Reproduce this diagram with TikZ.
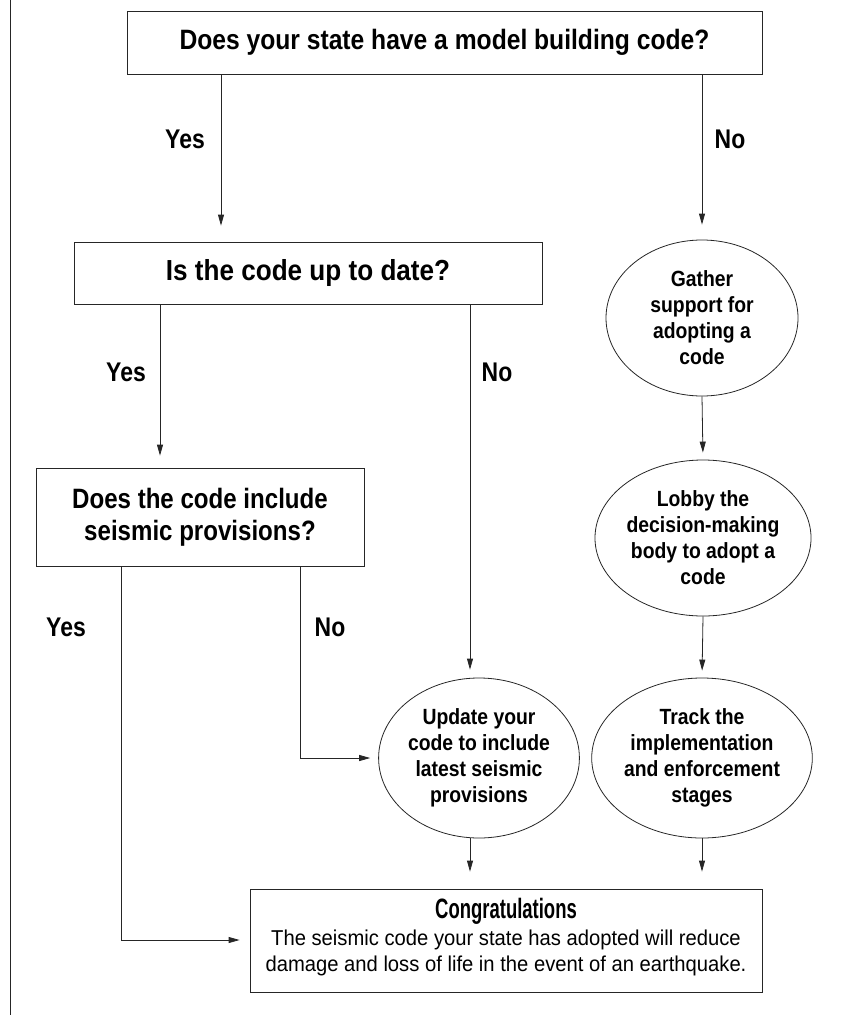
\documentclass[tikz,border=0pt]{standalone}
\usepackage{fontspec}
\setmainfont{Liberation Sans}
\newfontfamily\fTop{Liberation Sans}[FakeStretch=0.88]
\newfontfamily\fTwo{Liberation Sans}[FakeStretch=0.9]
\newfontfamily\fThree{Liberation Sans}[FakeStretch=0.86]
\newfontfamily\fLab{Liberation Sans}[FakeStretch=0.85]
\newfontfamily\fOval{Liberation Sans}[FakeStretch=0.88]
\newfontfamily\fTitle{Liberation Sans}[FakeStretch=0.66]
\newfontfamily\fBody{Liberation Sans}[FakeStretch=0.94]
\usetikzlibrary{shapes.geometric,arrows.meta}
\begin{document}
\begin{tikzpicture}[x=1pt,y=-1pt,
  box/.style={draw=black!85, line width=0.8pt, rectangle, inner sep=0pt},
  oval/.style={draw=black!85, line width=0.8pt, ellipse, inner sep=0pt, align=center,
    font=\fOval\bfseries\fontsize{22}{26}\selectfont},
  arr/.style={line width=0.8pt, draw=black!85, -{Triangle[length=11pt,width=6pt]}},
  ln/.style={line width=0.8pt, draw=black!85},
  qtext/.style={align=center, inner sep=0pt},
  lbl/.style={font=\fLab\bfseries\fontsize{27}{32}\selectfont, inner sep=0pt}
]
\useasboundingbox (0,0) rectangle (861,1019);
\draw[ln] (10,0) -- (10,1015);

% column coordinates
\coordinate (cA) at (221,0);
\coordinate (cB) at (702,0);
\coordinate (cC) at (160,0);
\coordinate (cD) at (470,0);
\coordinate (cE) at (121,0);
\coordinate (cF) at (300,0);
\coordinate (rowY) at (0,940);

% boxes
\node[box, minimum width=635pt, minimum height=63pt] (q1) at (444.5,42.5) {};
\node[qtext, font=\fTop\bfseries\fontsize{28}{32}\selectfont] (q1t) at (q1.center) {Does your state have a model building code?};
\node[box, minimum width=468pt, minimum height=62pt] (q2) at (308,273) {};
\node[qtext, font=\fTwo\bfseries\fontsize{29}{32}\selectfont] (q2t) at (q2.center) {Is the code up to date?};
\node[box, minimum width=328pt, minimum height=98pt] (q3) at (200,517) {};
\node[qtext, font=\fThree\bfseries\fontsize{28}{32}\selectfont] (q3t) at (q3.center) {Does the code include\\seismic provisions?};

% ovals
\node[oval, minimum width=192pt, minimum height=156pt] (g) at (702,318) {Gather\\support for\\adopting a\\code};
\node[oval, minimum width=192pt, minimum height=156pt] (lb) at (703,538) {Lobby the\\decision-making\\body to adopt a\\code};
\node[oval, minimum width=192pt, minimum height=160pt] (tr) at (702,758) {Track the\\implementation\\and enforcement\\stages};
\node[oval, minimum width=192pt, minimum height=160pt] (up) at (479,758) {Update your\\code to include\\latest seismic\\provisions};

% final box
\node[box, minimum width=512pt, minimum height=103pt] (cg) at (506,940.5) {};
\node[font=\fTitle\bfseries\fontsize{28}{30}\selectfont, inner sep=0pt] (cgt) at (506,911) {Congratulations};
\node[font=\fBody\fontsize{21.5}{26}\selectfont, align=center, inner sep=0pt] (cgb) at (506,953) {The seismic code your state has adopted will reduce\\damage and loss of life in the event of an earthquake.};

% labels
\node[lbl] (y1) at (185,139) {Yes};
\node[lbl] (n1) at (730,139) {No};
\node[lbl] (y2) at (126,372) {Yes};
\node[lbl] (n2) at (497,372) {No};
\node[lbl] (y3) at (66,627) {Yes};
\node[lbl] (n3) at (330,627) {No};

% connectors
\draw[arr, shorten >=16pt] (q1.south -| cA) -- (q2.north -| cA);
\draw[arr, shorten >=15pt] (q1.south -| cB) -- (g.north);
\draw[arr, shorten >=12pt] (q2.south -| cC) -- (q3.north -| cC);
\draw[arr, shorten >=8pt] (q2.south -| cD) -- (up.north -| cD);
\draw[arr, shorten >=7pt] (g.south) -- (lb.north);
\draw[arr, shorten >=7pt] (lb.south) -- (tr.north);
\draw[arr, shorten >=17pt] (up.south -| cD) -- (cg.north -| cD);
\draw[arr, shorten >=17pt] (tr.south) -- (tr.south |- cg.north);
\draw[arr, shorten >=10pt] (q3.south -| cE) |- (cg.west |- rowY);
\draw[arr, shorten >=8pt] (q3.south -| cF) |- (up.west);
\end{tikzpicture}
\end{document}
